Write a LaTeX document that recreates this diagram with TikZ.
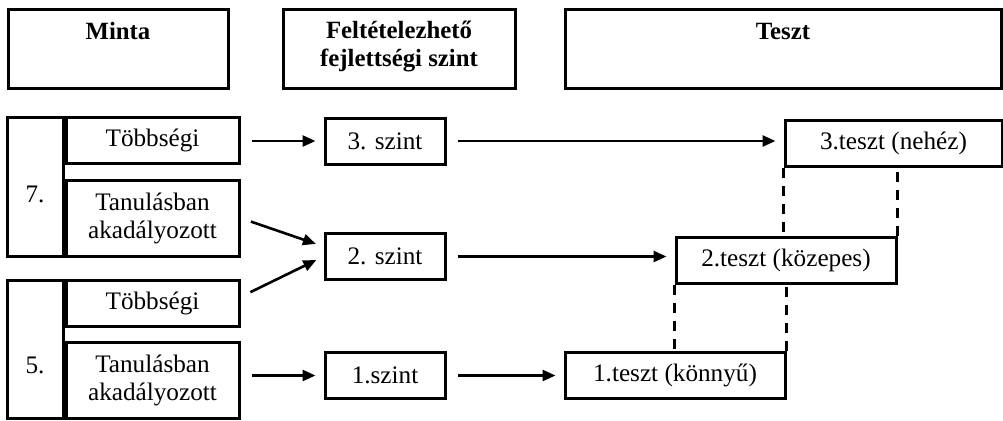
\documentclass[tikz,border=0pt]{standalone}
\usepackage{fontspec}
\setmainfont{Liberation Serif}
\usepackage{tikz}
\usetikzlibrary{positioning, arrows.meta}

\begin{document}
\begin{tikzpicture}[x=0.5pt, y=-0.5pt, font=\fontsize{12.6}{14}\selectfont,
    box/.style={draw, line width=1.5pt, inner sep=0pt, align=center},
    hdr/.style={box, minimum height=39.5pt},
    hdrtext/.style={font=\fontsize{12.4}{14}\selectfont\bfseries, align=center, inner sep=0pt},
    row/.style={box, minimum width=86.5pt},
    szint/.style={box, minimum width=60pt, minimum height=23pt},
    teszt/.style={box, minimum width=110pt, minimum height=23pt},
    arr/.style={-{Triangle[length=6.5pt,width=5.5pt]}, line width=1.3pt, shorten <=5.5pt, shorten >=4pt},
    link/.style={line width=1.5pt, dash pattern=on 5pt off 4pt}]
  \useasboundingbox (0,0) rectangle (1003,420);

  % fejlec
  \node[hdr, minimum width=110pt] (minta) at (118,48.5) {};
  \node[hdr, minimum width=116pt] (felt) at (399,48.5) {};
  \node[hdr, minimum width=218pt] (tesztfej) at (783,48.5) {};
  \node[hdrtext, anchor=base] (mintat) at ([yshift=-16pt]minta.north) {Minta};
  \node[hdrtext] (feltt) at ([yshift=1pt]felt.center) {Feltételezhető\\fejlettségi szint};
  \node[hdrtext, anchor=base] (tesztt) at ([yshift=-16pt]tesztfej.north) {Teszt};

  % minta
  \node[box, minimum width=28pt, minimum height=69.5pt,
        label={[yshift=-4pt]center:7.}] (g7) at (35,186.5) {};
  \node[row, minimum height=23pt, anchor=north west] (tobb7) at (g7.north east) {Többségi};
  \node[row, minimum height=38pt, anchor=south west] (tan7) at (g7.south east) {Tanulásban\\akadályozott};
  \node[box, minimum width=28pt, minimum height=69pt,
        label={[yshift=-8pt]center:5.}] (g5) at (35,349) {};
  \node[row, minimum height=23pt, anchor=north west] (tobb5) at (g5.north east) {Többségi};
  \node[row, minimum height=38pt, anchor=south west] (tan5) at (g5.south east) {Tanulásban\\akadályozott};

  % szintek
  \node[szint] (sz3) at (385,141) {3. szint};
  \node[szint] (sz2) at (385,256.5) {2. szint};
  \node[szint] (sz1) at (385,375.5) {1.szint};

  % tesztek
  \node[teszt, minimum width=108.5pt] (t3) at (893.5,143.5) {3.teszt (nehéz)};
  \node[teszt] (t2) at (786,260.5) {2.teszt (közepes)};
  \node[teszt] (t1) at (675,375.5) {1.teszt (könnyű)};

  \draw[arr] (tobb7.east |- sz3) -- (sz3);
  \draw[arr] (tan7.east) -- ([yshift=5pt]sz2.west);
  \draw[arr] ([yshift=3pt]tobb5.east) -- (sz2.west);
  \draw[arr] (tan5.east |- sz1) -- (sz1);
  \draw[arr] (sz3.east) -- (sz3.east -| t3.west);
  \draw[arr] (sz2.east) -- (sz2.east -| t2.west);
  \draw[arr] (sz1.east) -- (sz1.east -| t1.west);

  \draw[link] (t3.south west) -- (t3.south west |- t2.north);
  \draw[link] (t2.north east) -- (t2.north east |- t3.south);
  \draw[link] (t2.south west) -- (t2.south west |- t1.north);
  \draw[link] (t1.north east) -- (t1.north east |- t2.south);
\end{tikzpicture}
\end{document}
